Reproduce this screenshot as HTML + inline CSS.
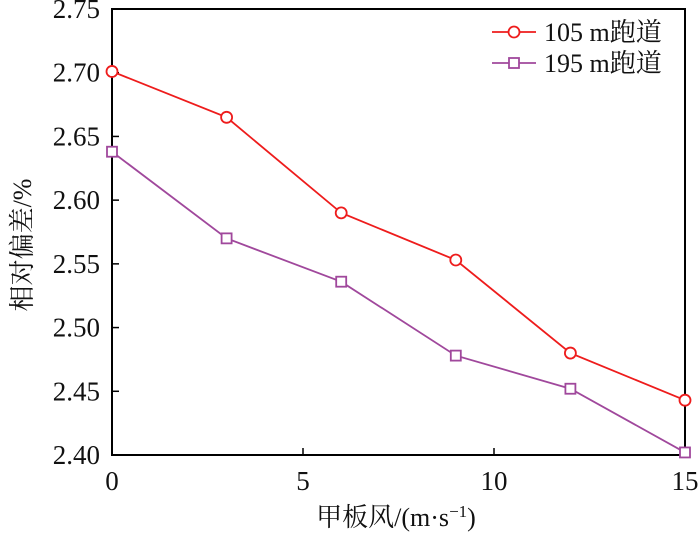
<!DOCTYPE html>
<html><head><meta charset="utf-8"><style>
body{margin:0;background:#fff}
svg text{font-family:"Liberation Serif","Noto Serif CJK SC",serif;fill:#111}
</style></head><body>
<svg width="700" height="532" viewBox="0 0 700 532">
<g id="axes"></g><g id="marks"></g>
</svg>
<script>
const xVals=[0,3,6,9,12,15];
const s105=[2.701,2.665,2.590,2.553,2.480,2.443];
const s195=[2.638,2.570,2.536,2.478,2.452,2.402];
const xTicks=[0,5,10,15];
const yTicks=[2.40,2.45,2.50,2.55,2.60,2.65,2.70,2.75];
const L=112,R=685,T=9,B=455;
const xs=v=>L+(v-0)/15*(R-L);
const ys=v=>B-(v-2.40)/0.35*(B-T);
const NS="http://www.w3.org/2000/svg";
function mk(p,tag,a){const e=document.createElementNS(NS,tag);for(const k in a)e.setAttribute(k,a[k]);p.appendChild(e);return e;}
const ax=document.getElementById('axes'),mk_=document.getElementById('marks');
let f=mk(ax,'rect',{x:L,y:T,width:R-L,height:B-T,fill:'none',stroke:'#000','stroke-width':2});

yTicks.forEach(v=>{const y=ys(v);
 mk(ax,'line',{x1:L,x2:L+7,y1:y,y2:y,stroke:'#000','stroke-width':1.5});
 const t=mk(ax,'text',{x:L-12,y:y+9,'text-anchor':'end','font-size':27});t.textContent=v.toFixed(2);
 });
xTicks.forEach(v=>{const x=xs(v);
 mk(ax,'line',{x1:x,x2:x,y1:B,y2:B-7,stroke:'#000','stroke-width':1.5});
 const t=mk(ax,'text',{x:x,y:B+35,'text-anchor':'middle','font-size':27});t.textContent=v;
 });
let xt=mk(ax,'text',{x:396,y:526,'text-anchor':'middle','font-size':26});xt.innerHTML='甲板风/(m·s<tspan dy="-9" font-size="17">−1</tspan><tspan dy="9">)</tspan>';

let yt=mk(ax,'text',{x:0,y:0,'text-anchor':'middle','font-size':26,transform:'translate(31,245) rotate(-90)'});yt.textContent='相对偏差/%';

function series(data,color,shape,name){
 const pl=mk(mk_,'polyline',{points:data.map((v,i)=>xs(xVals[i])+','+ys(v)).join(' '),fill:'none',stroke:color,'stroke-width':1.8});
 
 data.forEach((v,i)=>{const x=xs(xVals[i]),y=ys(v);let m;
  if(shape==='c')m=mk(mk_,'circle',{cx:x,cy:y,r:5.5,fill:'#fff',stroke:color,'stroke-width':1.8});
  else m=mk(mk_,'rect',{x:x-5,y:y-5,width:10,height:10,fill:'#fff',stroke:color,'stroke-width':1.8});
  });
}
series(s105,'#ee1c1c','c','series-105m');
series(s195,'#a0489c','s','series-195m');
function leg(y,color,shape,label){
 const g=mk(mk_,'g',{});
 mk(g,'line',{x1:492,x2:536,y1:y,y2:y,stroke:color,'stroke-width':1.8});
 if(shape==='c')mk(g,'circle',{cx:514,cy:y,r:5.5,fill:'#fff',stroke:color,'stroke-width':1.8});
 else mk(g,'rect',{x:509,y:y-5,width:10,height:10,fill:'#fff',stroke:color,'stroke-width':1.8});
 const t=mk(g,'text',{x:544,y:y+9,'font-size':26});t.textContent=label;
}
leg(32,'#ee1c1c','c','105 m跑道');
leg(63,'#a0489c','s','195 m跑道');
</script>
</body></html>
